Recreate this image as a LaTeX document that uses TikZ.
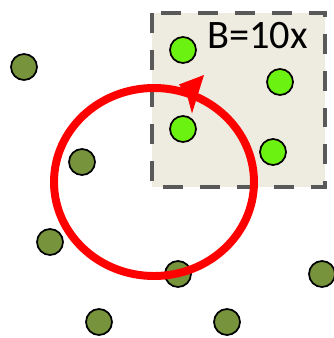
\documentclass[tikz,border=0pt]{standalone}
\usepackage{fontspec}
\setmainfont{Carlito}
\definecolor{olive}{RGB}{119,147,60}
\definecolor{lime}{RGB}{108,242,16}
\definecolor{tanbg}{RGB}{238,236,225}
\definecolor{dashgray}{RGB}{89,89,89}
\begin{document}
\begin{tikzpicture}[x=0.03cm,y=-0.03cm,
  dot/.style={circle,draw=black,line width=1.5pt,minimum size=0.78cm,inner sep=0pt},
  olivedot/.style={dot,fill=olive},
  limedot/.style={dot,fill=lime},
  zonebox/.style={fill=tanbg,draw=dashgray,line width=3.4pt,dash pattern=on 17pt off 14.5pt},
  ring/.style={draw=red,line width=6.8pt}]
\useasboundingbox (0,0) rectangle (333,338);
% box
\draw[zonebox] (152.3,13.3) rectangle (325,187);
\node[anchor=center,font=\fontsize{34.5}{34.5}\selectfont] (lbl) at (257.5,35.5) {B=10x};
% lime dots
\node[limedot] (g1) at (183,50) {};
\node[limedot] (g2) at (280,82) {};
\node[limedot] (g3) at (183,129) {};
\node[limedot] (g4) at (273,152) {};
% olive dots
\node[olivedot] (o1) at (24,67) {};
\node[olivedot] (o2) at (82,162) {};
\node[olivedot] (o3) at (50,242) {};
\node[olivedot] (o4) at (178,274) {};
\node[olivedot] (o5) at (99,322) {};
\node[olivedot] (o6) at (227,322) {};
\node[olivedot] (o7) at (322,274) {};
% red ring
\coordinate (rc) at (154,182);
\draw[ring] (rc) ellipse [x radius=100, y radius=94];
\fill[red] (204,75) -- (179,84.5) -- (187.5,97) -- (192,113.5) -- cycle;
\end{tikzpicture}
\end{document}
